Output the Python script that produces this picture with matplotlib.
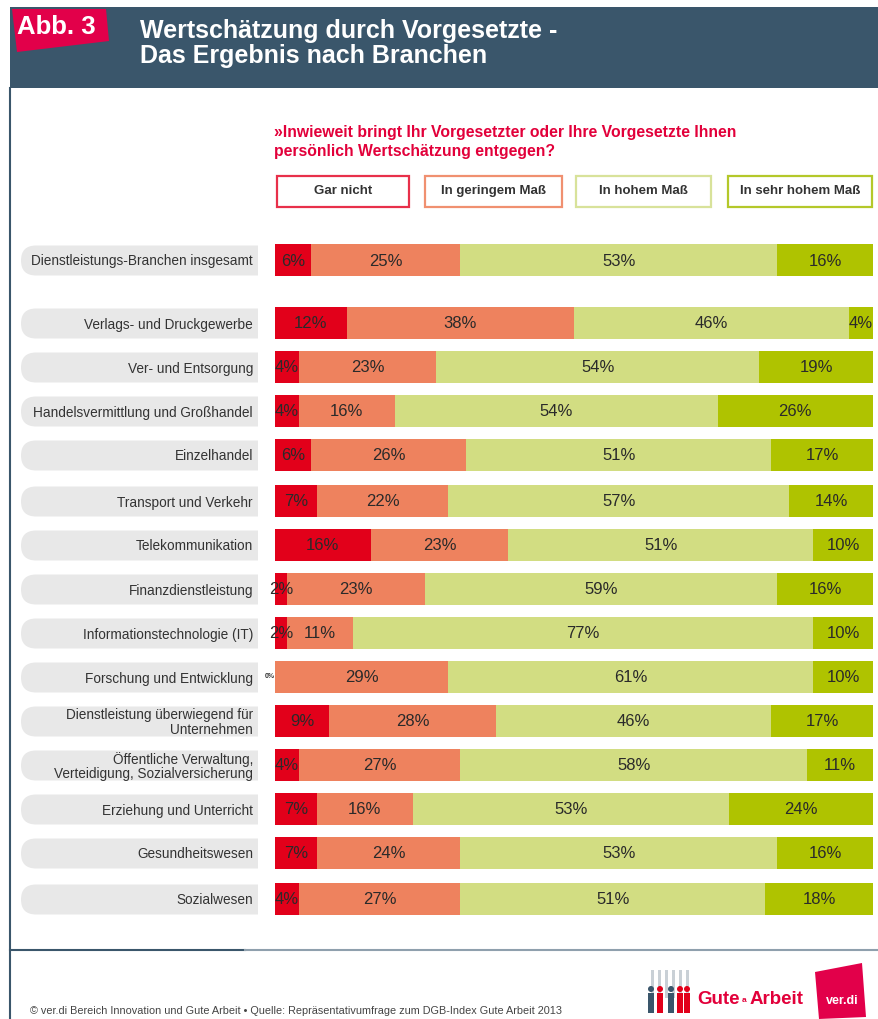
import matplotlib
matplotlib.use('Agg')
import numpy as np
import matplotlib.pyplot as plt
from matplotlib.patches import Rectangle, Polygon, FancyBboxPatch, Circle

# data
branchen = ['Dienstleistungs-Branchen insgesamt', 'Verlags- und Druckgewerbe', 'Ver- und Entsorgung',
            'Handelsvermittlung und Großhandel', 'Einzelhandel', 'Transport und Verkehr',
            'Telekommunikation', 'Finanzdienstleistung', 'Informationstechnologie (IT)',
            'Forschung und Entwicklung', 'Dienstleistung überwiegend für\nUnternehmen',
            'Öffentliche Verwaltung,\nVerteidigung, Sozialversicherung', 'Erziehung und Unterricht',
            'Gesundheitswesen', 'Sozialwesen']
gar_nicht = [6, 12, 4, 4, 6, 7, 16, 2, 2, 0, 9, 4, 7, 7, 4]
geringem = [25, 38, 23, 16, 26, 22, 23, 23, 11, 29, 28, 27, 16, 24, 27]
hohem = [53, 46, 54, 54, 51, 57, 51, 59, 77, 61, 46, 58, 53, 53, 51]
sehr_hohem = [16, 4, 19, 26, 17, 14, 10, 16, 10, 10, 17, 11, 24, 16, 18]
legende = ['Gar nicht', 'In geringem Maß', 'In hohem Maß', 'In sehr hohem Maß']

rows = [260, 323, 367, 411, 455, 501, 545, 589, 633, 677, 721, 765, 809, 853, 899]
farben = ['#e2001a', '#ee825e', '#d2dd82', '#afc300']
rand = ['#e8304a', '#f09070', '#d8e29a', '#b4c82a']
blau = '#3a566b'
W, H = 879, 1019
arial = ['Liberation Sans', 'DejaVu Sans']

fig = plt.figure(figsize=(W/100, H/100), dpi=100)

# page furniture in pixel coordinates
bg = fig.add_axes([0, 0, 1, 1])
bg.set_xlim(0, W)
bg.set_ylim(H, 0)
bg.axis('off')

bg.add_patch(Rectangle((10, 7), W-10, 81, color=blau, lw=0))
bg.add_patch(Polygon([(12, 9), (106, 9), (109, 41), (17, 52)], color='#e2004a', lw=0))
bg.text(17, 27, 'Abb. 3', color='white', fontsize=18.5, fontweight='bold', family=arial, va='center')
bg.text(140, 31, 'Wertschätzung durch Vorgesetzte -', color='white', fontsize=18, fontweight='bold',
        family=arial, va='center')
bg.text(140, 56, 'Das Ergebnis nach Branchen', color='white', fontsize=18, fontweight='bold',
        family=arial, va='center')
bg.plot([10, 10], [88, H], color=blau, lw=1.5)
bg.plot([10, 245], [950, 950], color=blau, lw=1.5)
bg.plot([245, W], [950, 950], color='#8fa0ad', lw=1.5)

bg.text(274, 132, '»Inwieweit bringt Ihr Vorgesetzter oder Ihre Vorgesetzte Ihnen', color='#e2003a',
        fontsize=11.3, fontweight='bold', family=arial, va='center')
bg.text(274, 151, 'persönlich Wertschätzung entgegen?', color='#e2003a', fontsize=11.3, fontweight='bold',
        family=arial, va='center')

boxen = [(277, 409), (425, 562), (576, 711), (728, 872)]
for (x0, x1), name, c in zip(boxen, legende, rand):
    bg.add_patch(Rectangle((x0, 176), x1-x0, 31, fc='white', ec=c, lw=1.6))
    bg.text((x0+x1)/2, 191, name, fontsize=9.5, fontweight='bold', family=arial, color='#333333',
            ha='center', va='center')

for y, name in zip(rows, branchen):
    pill = FancyBboxPatch((21, y-14.5), 280, 30, boxstyle='round,pad=0,rounding_size=15',
                          fc='#e8e8e8', ec='none')
    bg.add_patch(pill)
    # only the left end is round, cut the rest off at the bars
    pill.set_clip_path(Rectangle((0, y-20), 258, 40, transform=bg.transData))
    bg.text(253, y+1.5, name, fontsize=9.8, family=arial, color='#333333', ha='right', va='center',
            linespacing=1.0)

bg.text(30, 1011, '© ver.di Bereich Innovation und Gute Arbeit • Quelle: Repräsentativumfrage zum DGB-Index Gute Arbeit 2013',
        fontsize=7.8, family=arial, color='#444444', va='center')

# logo
for x in [651, 658, 665, 672, 679, 686]:
    bg.add_patch(Rectangle((x, 970), 3, 28, color='#c9d0d6', lw=0))
for x, c in zip([651, 660, 671, 680, 687], [blau, '#e2001a', blau, '#e2001a', '#e2001a']):
    bg.add_patch(Circle((x, 989), 3, color=c, lw=0))
    bg.add_patch(Rectangle((x-3, 993), 6, 20, color=c, lw=0))
bg.text(697, 999, 'Gute', color='#e2003a', fontsize=13.5, fontweight='bold', family=arial, va='center')
bg.text(750, 999, 'Arbeit', color='#e2003a', fontsize=13.5, fontweight='bold', family=arial, va='center')
bg.text(742, 1001, 'a', color='#e2003a', fontsize=6, fontweight='bold', family=arial, va='center')
bg.add_patch(Polygon([(815, 972), (862, 963), (866, 1017), (819, 1019)], color='#e2004a', lw=0))
bg.text(842, 1001, 'ver.di', color='white', fontsize=9, fontweight='bold', family=arial, ha='center', va='center')

# bars, 0-100 % across 275..873 px
ax = fig.add_axes([275/W, 1-920/H, (873-275)/W, (920-240)/H])
ax.patch.set_alpha(0)
ax.set_xlim(0, 100)
ax.set_ylim(920, 240)
ax.axis('off')

werte = np.array([gar_nicht, geringem, hohem, sehr_hohem], dtype=float)
links = np.zeros(len(rows))
for w, c in zip(werte, farben):
    ax.barh(rows, w, left=links, height=32, color=c, lw=0)
    for y, v, l in zip(rows, w, links):
        if v == 0:
            continue
        ax.text(l+v/2, y+1, '%d%%' % v, ha='center', va='center', fontsize=12, family=arial,
                color='#2a2a2a', clip_on=False)
    links = links + w
ax.text(-0.1, rows[9], '0%', ha='right', va='center', fontsize=5, family=arial, color='#333333',
        fontweight='bold', clip_on=False)

fig.savefig('out.png', dpi=100)
